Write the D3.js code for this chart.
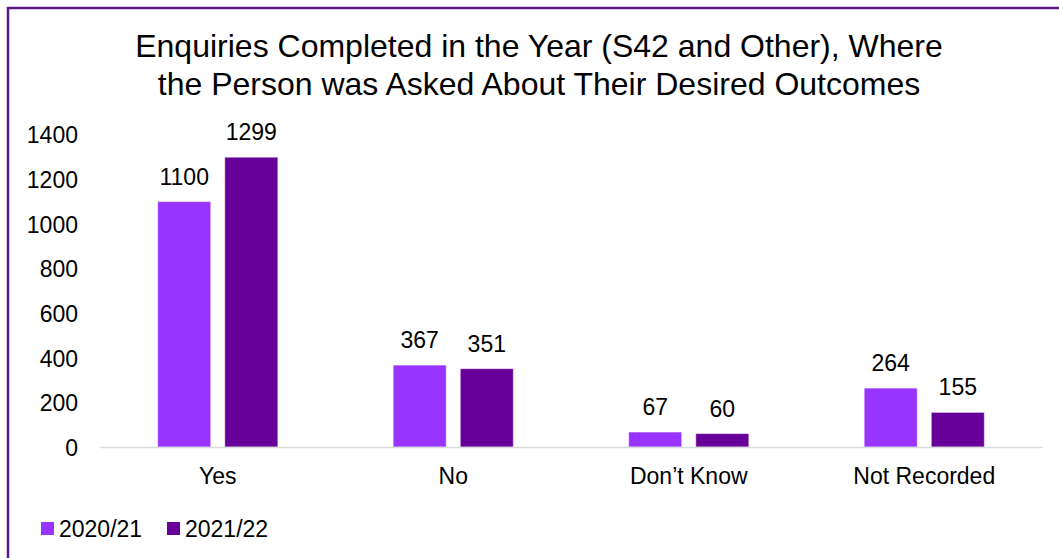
<!DOCTYPE html>
<html>
<head>
<meta charset="utf-8">
<script src="https://cdn.jsdelivr.net/npm/d3@7/dist/d3.min.js"></script>
<style>
  html, body { margin: 0; padding: 0; background: #fff; }
  svg { display: block; font-family: "Liberation Sans", Arial, sans-serif; }
</style>
</head>
<body>
<svg id="chart" width="1059" height="558"></svg>
<script>
// Outcome categories and the two reporting years
const categories = ["Yes", "No", "Don\u2019t Know", "Not Recorded"];
const seriesNames = ["2020/21", "2021/22"];
const values2020 = [1100, 367, 67, 264];
const values2021 = [1299, 351, 60, 155];
const yTicks = [0, 200, 400, 600, 800, 1000, 1200, 1400];
const titleLines = [
  "Enquiries Completed in the Year (S42 and Other), Where",
  "the Person was Asked About Their Desired Outcomes"
];
const colors = ["#9933FF", "#660099"];

const svg = d3.select("#chart");
const W = 1059, H = 558;

// Frame: only the top and left edges fall inside the canvas
svg.append("rect")
  .attr("x", 8).attr("y", 8)
  .attr("width", W + 20).attr("height", H + 20)
  .attr("fill", "#fff")
  .attr("stroke", "#5E1A82")
  .attr("stroke-width", 2.5);

// Title
svg.append("text")
  .attr("text-anchor", "middle")
  .attr("font-size", 32)
  .attr("fill", "#000")
  .selectAll("tspan")
  .data(titleLines)
  .join("tspan")
  .attr("x", 539)
  .attr("y", (d, i) => 57 + i * 38)
  .text(d => d);

const plot = { left: 100, right: 1042, top: 134.7, bottom: 447 };

const x0 = d3.scaleBand()
  .domain(categories)
  .range([plot.left, plot.right])
  .paddingInner(0.49)
  .paddingOuter(0.245);

const x1 = d3.scaleBand()
  .domain(seriesNames)
  .range([0, x0.bandwidth()])
  .paddingInner(0.21);

const y = d3.scaleLinear()
  .domain([0, 1400])
  .range([plot.bottom, plot.top]);

// Y-axis tick labels (no axis line, no gridlines)
const yAxis = d3.axisLeft(y).tickValues(yTicks).tickSize(0).tickPadding(0).tickFormat(d3.format("d"));
const yG = svg.append("g")
  .attr("transform", "translate(78,0)")
  .call(yAxis);
yG.select(".domain").remove();
yG.selectAll("text")
  .attr("font-size", 23)
  .attr("font-family", "Liberation Sans, Arial, sans-serif")
  .attr("fill", "#000")
  .attr("dy", "0.36em");

// Bars
const rows = categories.map((c, i) => ({
  category: c,
  items: [
    { series: seriesNames[0], value: values2020[i], color: colors[0] },
    { series: seriesNames[1], value: values2021[i], color: colors[1] }
  ]
}));

const groups = svg.append("g")
  .selectAll("g")
  .data(rows)
  .join("g")
  .attr("transform", d => `translate(${x0(d.category)},0)`);

groups.selectAll("rect")
  .data(d => d.items)
  .join("rect")
  .attr("x", d => x1(d.series))
  .attr("y", d => y(d.value))
  .attr("width", x1.bandwidth())
  .attr("height", d => y(0) - y(d.value))
  .attr("fill", d => d.color)
  .attr("stroke", "rgba(255,255,255,0.45)")
  .attr("stroke-width", 1);

groups.selectAll("text.value")
  .data(d => d.items)
  .join("text")
  .attr("class", "value")
  .attr("x", d => x1(d.series) + x1.bandwidth() / 2)
  .attr("y", d => y(d.value) - 17)
  .attr("text-anchor", "middle")
  .attr("font-size", 23)
  .attr("fill", "#000")
  .text(d => d.value);

// X axis baseline and category labels
const xAxis = d3.axisBottom(x0).tickSize(0).tickPadding(0);
const xG = svg.append("g")
  .attr("transform", `translate(0,${plot.bottom})`)
  .call(xAxis);
xG.select(".domain")
  .attr("stroke", "#D9D9D9")
  .attr("stroke-width", 1.5);
xG.selectAll("text")
  .attr("font-size", 23)
  .attr("font-family", "Liberation Sans, Arial, sans-serif")
  .attr("fill", "#000")
  .attr("dy", 0)
  .attr("y", 37);

// Legend
const legendX = [41, 167];
const legend = svg.append("g")
  .selectAll("g")
  .data(seriesNames)
  .join("g")
  .attr("transform", (d, i) => `translate(${legendX[i]},522)`);
legend.append("rect")
  .attr("width", 13).attr("height", 13)
  .attr("fill", (d, i) => colors[i]);
legend.append("text")
  .attr("x", 18)
  .attr("y", 14.5)
  .attr("font-size", 23)
  .attr("fill", "#000")
  .text(d => d);
</script>
</body>
</html>
